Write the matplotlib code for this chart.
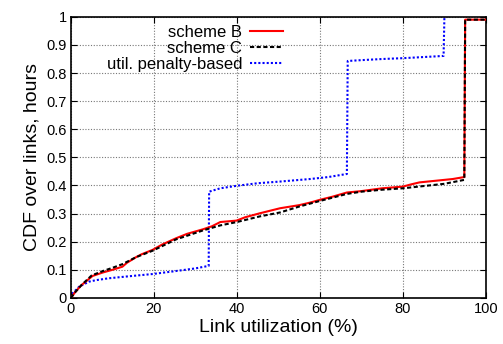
import matplotlib
matplotlib.use('Agg')
import matplotlib.pyplot as plt

plt.rcParams['font.family'] = 'Liberation Sans'
plt.rcParams['xtick.labelsize'] = 10.5
plt.rcParams['ytick.labelsize'] = 10.5
plt.rcParams['axes.labelsize'] = 14

# scheme B (red, solid)
b_x = [0, 1, 2.5, 5.2, 7.6, 10, 12.4, 13.5, 15.7, 17, 19.7, 22, 25.3, 28, 31.8, 34, 36,
       39.9, 42, 45.5, 50.4, 55, 57.6, 60, 63, 66.5, 70, 75, 80, 82, 84, 88, 92, 94.8, 95, 100]
b_y = [0, 0.02, 0.045, 0.078, 0.09, 0.1, 0.111, 0.125, 0.145, 0.155, 0.171, 0.19, 0.212,
       0.228, 0.244, 0.255, 0.27, 0.275, 0.287, 0.301, 0.319, 0.33, 0.339, 0.349, 0.36,
       0.375, 0.38, 0.39, 0.396, 0.404, 0.411, 0.417, 0.423, 0.43, 0.99, 0.99]

# scheme C (black, dashed)
c_x = [0, 1, 2.5, 5, 7.6, 10, 12.4, 15.7, 19.7, 25.3, 31.8, 36, 40, 45.5, 50.4, 55, 60,
       66.5, 70, 75, 80, 85, 90, 94.8, 95, 100]
c_y = [0, 0.02, 0.045, 0.08, 0.095, 0.107, 0.12, 0.145, 0.168, 0.208, 0.24, 0.258, 0.27,
       0.29, 0.304, 0.325, 0.345, 0.37, 0.378, 0.385, 0.39, 0.398, 0.406, 0.42, 0.99, 0.99]

# util. penalty-based (blue, dotted)
u_x = [0, 0.3, 2, 4.4, 6, 9.2, 14, 19.7, 25, 30, 33.2, 33.3, 36, 40, 45, 50.4, 57.6, 62,
       66.5, 66.7, 70, 75, 80, 85, 89.8, 90]
u_y = [0.0, 0.015, 0.04, 0.058, 0.063, 0.07, 0.077, 0.085, 0.095, 0.105, 0.114, 0.378,
       0.39, 0.399, 0.408, 0.414, 0.423, 0.43, 0.441, 0.843, 0.846, 0.85, 0.853, 0.857,
       0.861, 1.0]

fig, ax = plt.subplots(figsize=(5.03, 3.44), dpi=100)
plt.subplots_adjust(left=0.141, right=0.966, bottom=0.134, top=0.951)

ax.plot(b_x, b_y, color='red', linewidth=1.5, label='scheme B', zorder=3)
ax.plot(c_x, c_y, color='black', linewidth=1.5, linestyle=(0, (2, 1.2)), label='scheme C', zorder=4)
ax.plot(u_x, u_y, color='blue', linewidth=1.5, linestyle=(0, (1, 1)), label='util. penalty-based', zorder=2)

ax.set_xlim(0, 100)
ax.set_ylim(0, 1)
ax.set_xticks([0, 20, 40, 60, 80, 100])
ax.set_yticks([0, 0.1, 0.2, 0.3, 0.4, 0.5, 0.6, 0.7, 0.8, 0.9, 1])
ax.set_yticklabels(['0', '0.1', '0.2', '0.3', '0.4', '0.5', '0.6', '0.7', '0.8', '0.9', '1'])
ax.tick_params(direction='in', top=True, right=True, length=4, width=0.8, pad=3)
ax.grid(True, color='#777777', linestyle=(0, (1, 1.5)), linewidth=0.8)
for s in ax.spines.values():
    s.set_linewidth(1.2)

ax.set_xlabel('Link utilization (%)', labelpad=2)
ax.set_ylabel('CDF over links, hours', labelpad=4)

ax.legend(loc='upper right', bbox_to_anchor=(0.511, 0.97), frameon=False, markerfirst=False,
          fontsize=12, handlelength=2.0, handletextpad=0.45, labelspacing=0.05,
          borderpad=0, borderaxespad=0)

plt.savefig('out.png', dpi=100)
